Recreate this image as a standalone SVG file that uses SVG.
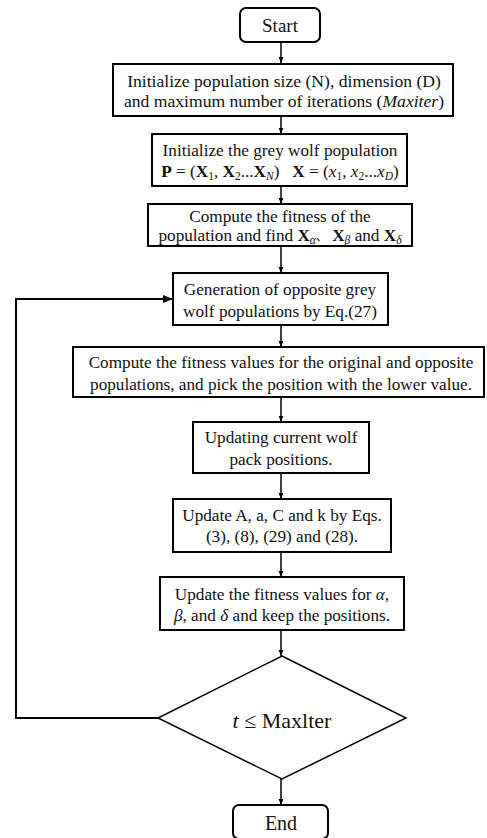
<svg xmlns="http://www.w3.org/2000/svg" width="487" height="838" viewBox="0 0 487 838">
<defs>
<style>
.b{fill:#fff;stroke:#000;stroke-width:2}
.t{font-family:"Liberation Serif","Times New Roman",serif;font-size:17.2px;fill:#111;text-anchor:middle}
.c{fill:none;stroke:#000;stroke-width:1.5}
.l{fill:none;stroke:#000;stroke-width:2}
.i{font-style:italic}
.bd{font-weight:bold}
.s{font-size:11.5px}
</style>
<marker id="ah" viewBox="0 0 10 10" refX="10" refY="5" markerWidth="6" markerHeight="6" orient="auto" markerUnits="userSpaceOnUse"><path d="M0,1 L10,5 L0,9 z" fill="#000"/></marker>
<marker id="ah2" viewBox="0 0 10 10" refX="10" refY="5" markerWidth="10" markerHeight="10" orient="auto" markerUnits="userSpaceOnUse"><path d="M0,1 L10,5 L0,9 z" fill="#000"/></marker>
</defs>
<rect width="487" height="838" fill="#fff"/>
<g id="connectors">
<line class="c" x1="281" y1="42" x2="281" y2="63" marker-end="url(#ah)"/>
<line class="c" x1="281" y1="116" x2="281" y2="134" marker-end="url(#ah)"/>
<line class="c" x1="281" y1="186" x2="281" y2="204" marker-end="url(#ah)"/>
<line class="c" x1="281" y1="246" x2="281" y2="273" marker-end="url(#ah)"/>
<line class="c" x1="281" y1="325" x2="281" y2="347" marker-end="url(#ah)"/>
<line class="c" x1="281" y1="397" x2="281" y2="422" marker-end="url(#ah)"/>
<line class="c" x1="281" y1="473" x2="281" y2="499" marker-end="url(#ah)"/>
<line class="c" x1="281" y1="552" x2="281" y2="577" marker-end="url(#ah)"/>
<line class="c" x1="281" y1="630" x2="281" y2="656" marker-end="url(#ah)"/>
<line class="c" x1="281" y1="779" x2="281" y2="805" marker-end="url(#ah)"/>
<polyline class="l" points="158,718 16,718 16,299 173,299" marker-end="url(#ah2)"/>
</g>
<g id="start">
<rect class="b" x="240" y="8" width="80" height="34" rx="6" ry="6"/>
<text class="t" x="280" y="32" style="font-size:19px">Start</text>
</g>
<g id="init-params">
<rect class="b" x="113" y="64" width="340" height="52"/>
<text class="t" x="284" y="87" style="font-size:17.6px">Initialize population size (N), dimension (D)</text>
<text class="t" x="284" y="107" style="font-size:17.6px">and maximum number of iterations (<tspan class="i">Maxiter</tspan>)</text>
</g>
<g id="init-pop">
<rect class="b" x="152" y="134" width="255" height="52"/>
<text class="t" x="280" y="156">Initialize the grey wolf population</text>
<text class="t" x="280" y="177"><tspan class="bd">P</tspan> = (<tspan class="bd">X</tspan><tspan class="s" dy="3">1</tspan><tspan dy="-3">, </tspan><tspan class="bd">X</tspan><tspan class="s" dy="3">2</tspan><tspan dy="-3">...</tspan><tspan class="bd">X</tspan><tspan class="s i" dy="3">N</tspan><tspan dy="-3" xml:space="preserve">)   </tspan><tspan class="bd">X</tspan> = (<tspan class="i">x</tspan><tspan class="s" dy="3">1</tspan><tspan dy="-3">, </tspan><tspan class="i">x</tspan><tspan class="s" dy="3">2</tspan><tspan dy="-3">...</tspan><tspan class="i">x</tspan><tspan class="s i" dy="3">D</tspan><tspan dy="-3">)</tspan></text>
</g>
<g id="fitness">
<rect class="b" x="148" y="204" width="264" height="42"/>
<text class="t" x="280" y="222">Compute the fitness of the</text>
<text class="t" x="280" y="241">population and find <tspan class="bd">X</tspan><tspan class="s i" dy="3">α</tspan><tspan dy="-3" style="font-family:'Noto Sans CJK SC',sans-serif;font-size:12px">、</tspan> <tspan class="bd">X</tspan><tspan class="s i" dy="3">β</tspan><tspan dy="-3"> and </tspan><tspan class="bd">X</tspan><tspan class="s i" dy="3">δ</tspan></text>
</g>
<g id="opposite">
<rect class="b" x="173" y="273" width="215" height="52"/>
<text class="t" x="280" y="295">Generation of opposite grey</text>
<text class="t" x="280" y="317">wolf populations by Eq.(27)</text>
</g>
<g id="compare">
<rect class="b" x="73" y="347" width="411" height="50"/>
<text class="t" x="281" y="368">Compute the fitness values for the original and opposite</text>
<text class="t" x="281" y="390">populations, and pick the position with the lower value.</text>
</g>
<g id="update-pos">
<rect class="b" x="193" y="422" width="176" height="51"/>
<text class="t" x="281" y="443">Updating current wolf</text>
<text class="t" x="281" y="465">pack positions.</text>
</g>
<g id="update-params">
<rect class="b" x="173" y="499" width="218" height="53"/>
<text class="t" x="282" y="521">Update A, a, C and k by Eqs.</text>
<text class="t" x="282" y="542">(3), (8), (29) and (28).</text>
</g>
<g id="update-fitness">
<rect class="b" x="160" y="577" width="244" height="53"/>
<text class="t" x="282" y="600">Update the fitness values for <tspan class="i">α</tspan>,</text>
<text class="t" x="282" y="621"><tspan class="i">β</tspan>, and <tspan class="i">δ</tspan> and keep the positions.</text>
</g>
<g id="decision">
<polygon points="282,656 406,718 282,779 158,718" fill="#fff" stroke="#000" stroke-width="1.5"/>
<text class="t" x="282" y="728" style="font-size:22px"><tspan class="i">t</tspan> ≤ Maxlter</text>
</g>
<g id="end">
<rect class="b" x="233" y="805" width="95" height="34" rx="6" ry="6"/>
<text class="t" x="281" y="830" style="font-size:20px">End</text>
</g>
</svg>
